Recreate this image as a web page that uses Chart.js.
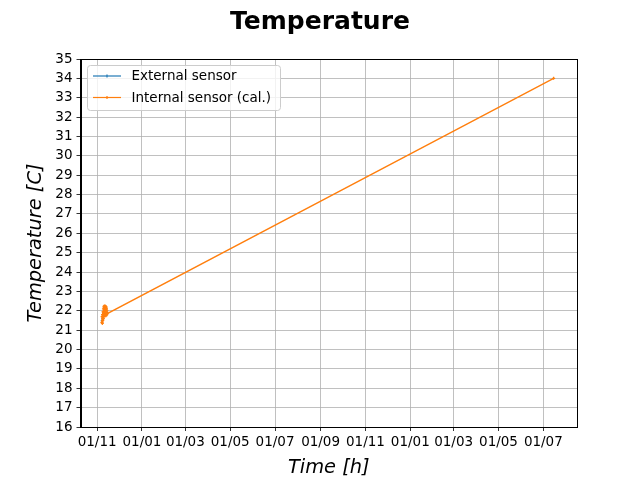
<!DOCTYPE html>
<html><head><meta charset="utf-8">
<script src="https://cdn.jsdelivr.net/npm/chart.js@4/dist/chart.umd.min.js"></script>
<style>html,body{margin:0;padding:0;background:#fff}canvas{display:block}</style>
</head><body>
<canvas id="c" width="640" height="480" style="width:640px;height:480px"></canvas>
<script>
// Days since 1 Nov (first year)
const extDays = [7.0, 7.8, 8.6, 9.4, 10.2, 11.0, 11.8, 12.6, 13.4];
const extTemps = [21.5, 21.6, 21.9, 21.8, 22.0, 21.9, 22.0, 21.9, 21.9];
const intDays = [6.5, 6.8, 7.1, 7.4, 7.7, 8.0, 8.3, 8.6, 8.9, 9.2, 9.5, 9.8, 10.1, 10.4, 10.7, 11.0, 11.3, 11.6, 11.9, 12.2, 12.5, 12.8, 13.1, 13.4, 13.7, 621];
const intTemps = [21.4, 21.7, 21.35, 21.8, 21.5, 21.95, 21.6, 22.1, 21.7, 22.2, 21.75, 22.25, 21.8, 22.2, 21.75, 22.25, 21.8, 22.15, 21.75, 22.2, 21.8, 22.1, 21.8, 22.0, 21.85, 34.0];
const tickDays = [0, 61, 120, 181, 242, 304, 365, 426, 485, 546, 607];
const tickLabels = ["01/11","01/01","01/03","01/05","01/07","01/09","01/11","01/01","01/03","01/05","01/07"];
const seriesNames = ["External sensor", "Internal sensor (cal.)"];
const seriesColors = ["#1f77b4", "#ff7f0e"];
const titleText = "Temperature";
const xTitle = "Time [h]";
const yTitle = "Temperature [C]";

const FONT = "'DejaVu Sans', sans-serif";

const framePlugin = {
  id: 'frame',
  afterDraw(chart) {
    const ctx = chart.ctx, a = chart.chartArea;
    ctx.save();
    ctx.strokeStyle = '#000'; ctx.lineWidth = 1;
    ctx.strokeRect(Math.round(a.left) + 0.5, Math.round(a.top) + 0.5, Math.round(a.right - a.left) - 1, Math.round(a.bottom - a.top));
    // title
    ctx.fillStyle = '#000';
    ctx.font = "bold 25px " + FONT;
    ctx.textAlign = 'center'; ctx.textBaseline = 'middle';
    ctx.fillText(titleText, 320, 22);
    // legend
    const lx = 87.5, ly = 65.5, lw = 193, lh = 45, r = 3;
    ctx.beginPath();
    ctx.moveTo(lx + r, ly); ctx.lineTo(lx + lw - r, ly); ctx.quadraticCurveTo(lx + lw, ly, lx + lw, ly + r);
    ctx.lineTo(lx + lw, ly + lh - r); ctx.quadraticCurveTo(lx + lw, ly + lh, lx + lw - r, ly + lh);
    ctx.lineTo(lx + r, ly + lh); ctx.quadraticCurveTo(lx, ly + lh, lx, ly + lh - r);
    ctx.lineTo(lx, ly + r); ctx.quadraticCurveTo(lx, ly, lx + r, ly);
    ctx.closePath();
    ctx.fillStyle = 'rgba(255,255,255,0.8)'; ctx.fill();
    ctx.strokeStyle = '#cccccc'; ctx.lineWidth = 1; ctx.stroke();
    ctx.font = "13.5px " + FONT;
    ctx.textAlign = 'left';
    [76, 97.5].forEach((y, i) => {
      ctx.strokeStyle = seriesColors[i]; ctx.lineWidth = 1.2;
      ctx.beginPath(); ctx.moveTo(93, y); ctx.lineTo(121, y); ctx.stroke();
      ctx.beginPath(); ctx.moveTo(107, y - 1.5); ctx.lineTo(107, y + 1.5); ctx.stroke();
      ctx.fillStyle = '#000';
      ctx.fillText(seriesNames[i], 131.5, y + 0.5);
    });
    ctx.restore();
  }
};

new Chart(document.getElementById('c'), {
  type: 'line',
  data: {
    datasets: [
      { label: seriesNames[0], data: extDays.map((d, i) => ({x: d, y: extTemps[i]})),
        borderColor: seriesColors[0], backgroundColor: seriesColors[0], borderWidth: 1.3,
        pointStyle: 'cross', pointRadius: 1.5, pointBorderWidth: 1, order: 2 },
      { label: seriesNames[1], data: intDays.map((d, i) => ({x: d, y: intTemps[i]})),
        borderColor: seriesColors[1], backgroundColor: seriesColors[1], borderWidth: 1.3,
        pointStyle: 'cross', pointRadius: 1.5, pointBorderWidth: 1.2, order: 1 }
    ]
  },
  options: {
    responsive: false, animation: false, devicePixelRatio: 1,
    layout: { padding: { left: 0, right: 63, top: 59, bottom: 0 } },
    plugins: { legend: { display: false }, title: { display: false }, tooltip: { enabled: false } },
    scales: {
      x: {
        type: 'linear', min: -22.6, max: 652.8,
        afterBuildTicks: s => { s.ticks = tickDays.map(v => ({ value: v })); },
        afterFit: s => { s.height = 53; },
        ticks: { callback: (v, i) => tickLabels[i], color: '#000', font: { family: FONT, size: 13.5 }, padding: 3, maxRotation: 0, autoSkip: false },
        grid: { color: '#b0b0b0', lineWidth: 0.8, tickColor: '#000', tickLength: 4, drawOnChartArea: true },
        border: { color: '#000' },
        title: { display: true, text: xTitle, color: '#000', font: { family: FONT, size: 19.4, style: 'italic' }, padding: { top: 3, bottom: 0 } }
      },
      y: {
        min: 16, max: 35,
        afterFit: s => { s.width = 80.5; },
        ticks: { stepSize: 1, autoSkip: false, color: '#000', font: { family: FONT, size: 13.5 }, padding: 4 },
        grid: { color: '#b0b0b0', lineWidth: 0.8, tickColor: '#000', tickLength: 4 },
        border: { color: '#000' },
        title: { display: true, text: yTitle, color: '#000', font: { family: FONT, size: 19.4, style: 'italic' }, padding: { top: 24, bottom: 0 } }
      }
    }
  },
  plugins: [framePlugin]
});
</script>
</body></html>
